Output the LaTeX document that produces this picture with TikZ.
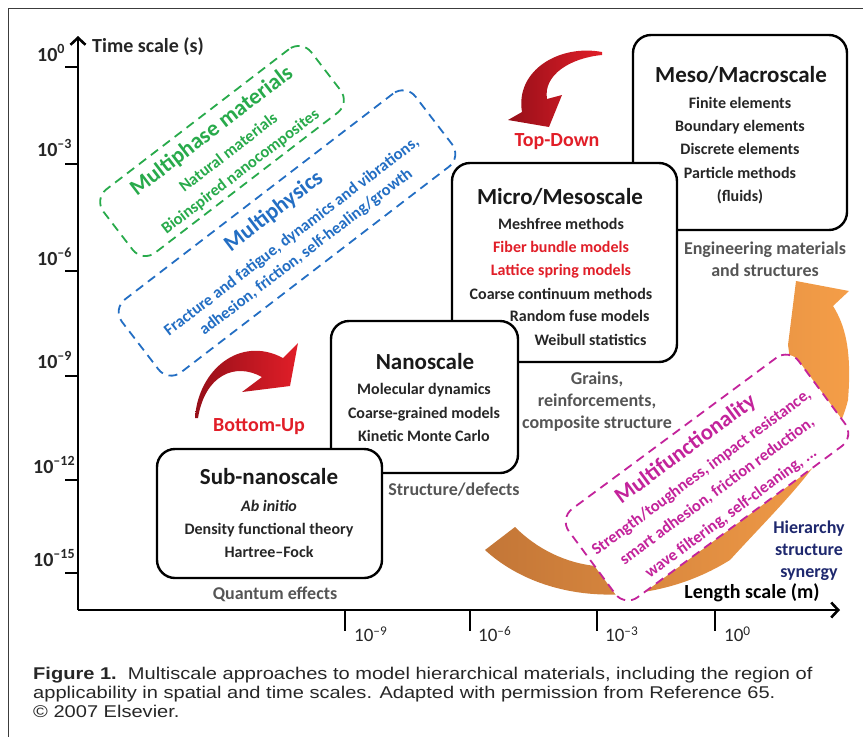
\documentclass[tikz,border=0pt]{standalone}
\usepackage{fontspec}
\setmainfont{Carlito}
\newfontfamily\capfont[FakeStretch=1.18]{Liberation Sans}
\usepackage{xcolor}
\usepackage{tikz}
\usetikzlibrary{arrows.meta}
\definecolor{phasegreen}{RGB}{40,170,75}
\definecolor{physblue}{RGB}{35,110,195}
\definecolor{funcpink}{RGB}{195,35,155}
\definecolor{arrowred}{RGB}{225,30,40}
\definecolor{darkred}{RGB}{150,15,25}
\definecolor{labelgray}{RGB}{85,85,85}
\definecolor{navyblue}{RGB}{30,40,110}
\definecolor{orangedark}{RGB}{195,118,55}
\definecolor{orangelight}{RGB}{245,158,72}
\definecolor{framegray}{RGB}{60,60,60}
\newcommand{\tpow}[1]{10\textsuperscript{#1}}
\tikzset{
  scalebox/.style={draw, line width=2.4pt, rounded corners=18pt, fill=white, inner sep=0pt, outer sep=0pt},
  boxtitle/.style={font=\fontsize{23}{27}\selectfont\bfseries, text=black!90},
  boxitems/.style={font=\fontsize{16}{23.3}\selectfont\bfseries, align=center, text=black!85},
  scalelabel/.style={font=\fontsize{18}{22}\selectfont\bfseries, align=center, text=labelgray},
  dashbox/.style={dash pattern=on 9pt off 6pt, line width=1.8pt, rounded corners=16pt, inner sep=0pt},
  dashtitle/.style={font=\fontsize{22.5}{26}\selectfont\bfseries},
  dashitem/.style={font=\fontsize{16.5}{19}\selectfont\bfseries},
  ticklabel/.style={font=\fontsize{20}{22}\selectfont\bfseries, text=black!85, inner sep=0pt},
  xticklabel/.style={font=\fontsize{19}{22}\selectfont, text=black!85, inner sep=0pt},
  axisline/.style={line width=2.6pt},
}
\begin{document}
\begin{tikzpicture}[x=1pt, y=-1pt, >={Straight Barb[length=7pt, width=15pt]}]
\useasboundingbox (0,0) rectangle (863,737);

% frame
\draw[framegray, line width=1pt] (8,737) -- (8,8) -- (863,8);

% axes
\coordinate (origin) at (78,610);
\coordinate (ytop) at (78,36);
\coordinate (xend) at (840,610);
\draw[axisline, ->] (origin) -- (ytop);
\draw[axisline, ->] (origin) -- (xend);
\node[ticklabel, anchor=west] (ytitle) at (92,47) {Time scale (s)};
\node[ticklabel, text=black] (xtitle) at (752,593) {Length scale (m)};

% time ticks
\draw[axisline] (65,67) -- (78,67);
\draw[axisline] (65,164) -- (78,164);
\draw[axisline] (65,271) -- (78,271);
\draw[axisline] (65,376) -- (78,376);
\draw[axisline] (65,480) -- (78,480);
\draw[axisline] (65,573) -- (78,573);
\node[ticklabel, anchor=west] (t0) at (37,53) {\tpow{0}};
\node[ticklabel, anchor=west] (t3) at (37,148) {\tpow{\textendash3}};
\node[ticklabel, anchor=west] (t6) at (37,257) {\tpow{\textendash6}};
\node[ticklabel, anchor=west] (t9) at (37,360) {\tpow{\textendash9}};
\node[ticklabel, anchor=west] (t12) at (33,465) {\tpow{\textendash12}};
\node[ticklabel, anchor=west] (t15) at (33,558) {\tpow{\textendash15}};

% length ticks
\draw[axisline] (345,610) -- (345,631);
\draw[axisline] (470,610) -- (470,631);
\draw[axisline] (597,610) -- (597,631);
\draw[axisline] (715,610) -- (715,631);
\node[xticklabel, anchor=west] (l9) at (354,634) {\tpow{\textendash9}};
\node[xticklabel, anchor=west] (l6) at (478,634) {\tpow{\textendash6}};
\node[xticklabel, anchor=west] (l3) at (605,634) {\tpow{\textendash3}};
\node[xticklabel, anchor=west] (l0) at (724,634) {\tpow{0}};

% orange hierarchy arrow
\shade[left color=orangedark, right color=orangelight]
  (485,550) .. controls (545,605) and (650,610) .. (730,560)
  .. controls (780,505) and (835,455) .. (848,400)
  .. controls (852,350) and (845,325) .. (833,306)
  -- (849,291) -- (796,281) -- (788,345)
  .. controls (800,420) and (760,500) .. (690,540)
  .. controls (630,582) and (560,572) .. (515,527) -- cycle;

% red arrows
\shade[left color=darkred, right color=arrowred]
  (602,52) .. controls (560,44) and (515,70) .. (522,112) -- (508,120) -- (549,127)
  -- (562,95) -- (547,99) .. controls (543,75) and (570,58) .. (602,55) -- cycle;
\shade[left color=darkred, right color=arrowred]
  (195,418) .. controls (198,370) and (240,335) .. (283,358) -- (298,343) -- (290,386)
  -- (242,392) -- (262,377) .. controls (235,362) and (205,375) .. (198,418) -- cycle;
\node[ticklabel, text=arrowred] (topdown) at (557,142) {Top-Down};
\node[ticklabel, text=arrowred] (bottomup) at (259,427) {Bottom-Up};

% scale boxes
\node[scalebox, minimum width=214pt, minimum height=195pt] (meso) at (740,132.5) {};
\node[scalebox, minimum width=225pt, minimum height=199pt] (micro) at (564.5,262.5) {};
\node[scalebox, minimum width=187pt, minimum height=152pt] (nano) at (424.5,397) {};
\node[scalebox, minimum width=225pt, minimum height=129pt] (sub) at (269.5,513.5) {};

% box texts
\node[boxtitle] (mesotitle) at (741,75) {Meso/Macroscale};
\node[boxitems] (mesoitems) at (740,150.5) {Finite elements\\Boundary elements\\Discrete elements\\Particle methods\\(fluids)};
\node[boxtitle] (microtitle) at (560,197) {Micro/Mesoscale};
\node[boxitems] (microitems) at (561,258.5) {Meshfree methods\\\textcolor{arrowred}{Fiber bundle models}\\\textcolor{arrowred}{Lattice spring models}\\Coarse continuum methods};
\node[boxitems, anchor=east] (fuse) at (653,316) {Random fuse models};
\node[boxitems, anchor=east] (weibull) at (650,340) {Weibull statistics};
\node[boxtitle] (nanotitle) at (425,362) {Nanoscale};
\node[boxitems] (nanoitems) at (424,412.5) {Molecular dynamics\\Coarse-grained models\\Kinetic Monte Carlo};
\node[boxtitle] (subtitle) at (269,477) {Sub-nanoscale};
\node[boxitems] (subitems) at (269,529) {\textit{Ab initio}\\Density functional theory\\Hartree--Fock};

% labels under the boxes
\node[scalelabel] (quantum) at (275,594) {Quantum effects};
\node[scalelabel] (defects) at (454,490) {Structure/defects};
\node[scalelabel] (grains) at (597,402) {Grains,\\reinforcements,\\composite structure};
\node[scalelabel] (engineering) at (765,259) {Engineering materials\\and structures};
\node[scalelabel, text=navyblue] (hierarchy) at (809,551) {Hierarchy\\structure\\synergy};

% dashed boxes
\node[dashbox, draw=phasegreen, rotate=37.5, minimum width=262pt, minimum height=80pt] (phasebox) at (222,151) {};
\begin{scope}[shift={(phasebox.center)}, rotate=37.5]
\node[dashtitle, text=phasegreen, rotate=37.5] (phasetitle) at (4,-22) {Multiphase materials};
\node[dashitem, text=phasegreen, rotate=37.5] (natural) at (4,4.5) {Natural materials};
\node[dashitem, text=phasegreen, rotate=37.5] (bioinspired) at (2,28) {Bioinspired nanocomposites};
\end{scope}

\node[dashbox, draw=physblue, rotate=37.5, minimum width=370pt, minimum height=92pt] (physbox) at (287,233) {};
\begin{scope}[shift={(physbox.center)}, rotate=37.5]
\node[dashtitle, text=physblue, rotate=37.5] (phystitle) at (2.5,-25) {Multiphysics};
\node[dashitem, text=physblue, rotate=37.5] (fracture) at (1.5,6) {Fracture and fatigue, dynamics and vibrations,};
\node[dashitem, text=physblue, rotate=37.5] (adhesion) at (3.5,27) {adhesion, friction, self-healing/growth};
\end{scope}

\node[dashbox, draw=funcpink, fill=white, rotate=36.5, minimum width=286pt, minimum height=110pt] (funcbox) at (707,477.5) {};
\begin{scope}[shift={(funcbox.center)}, rotate=36.5]
\node[dashtitle, text=funcpink, rotate=36.5] (functitle) at (-0.5,-35) {Multifunctionality};
\node[dashitem, text=funcpink, rotate=36.5] (strength) at (-1.3,-7) {Strength/toughness, impact resistance,};
\node[dashitem, text=funcpink, rotate=36.5] (smart) at (0,17) {smart adhesion, friction reduction,};
\node[dashitem, text=funcpink, rotate=36.5] (wave) at (-1.8,43) {wave filtering, self-cleaning, ...};
\end{scope}

% caption
\node[anchor=north west, align=left, inner sep=0pt, text=black!85, font=\capfont\fontsize{17}{18.8}\selectfont] (caption) at (33,667)
  {\textbf{Figure 1.}\ \ Multiscale approaches to model hierarchical materials, including the region of\\
   applicability in spatial and time scales. Adapted with permission from Reference 65.\\
   \textcopyright{} 2007 Elsevier.};
\end{tikzpicture}
\end{document}
